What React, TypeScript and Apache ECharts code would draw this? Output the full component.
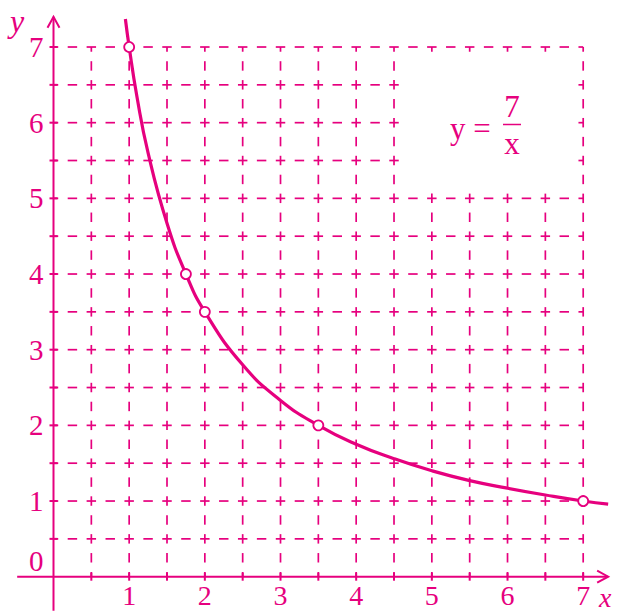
import React, { useEffect, useRef } from "react";
import * as echarts from "echarts";

const COLOR = "#e6007e";
const FONT = "'Liberation Serif', 'Times New Roman', serif";

// Axis tick labels
const xTickValues = [1, 2, 3, 4, 5, 6, 7];
const xTickLabels = ["1", "2", "3", "4", "5", "6", "7"];
const yTickValues = [0, 1, 2, 3, 4, 5, 6, 7];
const yTickLabels = ["0", "1", "2", "3", "4", "5", "6", "7"];

// Positions of dashed grid lines (and small axis ticks)
const gridValues = [0.5, 1, 1.5, 2, 2.5, 3, 3.5, 4, 4.5, 5, 5.5, 6, 6.5, 7];

// Region kept clear for the equation label
const labelBoxX = [4.5, 7];
const labelBoxY = [5, 7];

// Marked points (open circles)
const markedX = [1, 1.75, 2, 3.5, 7];
const markedY = [7, 4, 3.5, 2, 1];

// Curve y = 7/x
const curveX = [0.95, 1, 1.1, 1.25, 1.5, 1.75, 2, 2.5, 3, 3.5, 4, 4.5, 5, 5.5, 6, 6.5, 7, 7.33];
const curveY = [7.37, 7, 6.36, 5.6, 4.67, 4, 3.5, 2.8, 2.33, 2, 1.75, 1.56, 1.4, 1.27, 1.17, 1.08, 1, 0.96];

const X_MIN = -0.5, X_MAX = 7.35, Y_MIN = -0.45, Y_MAX = 7.4;
const S = 75.67;

export default function App() {
  const ref = useRef<HTMLDivElement>(null);
  useEffect(() => {
    document.body.style.margin = "0";
    const chart = echarts.init(ref.current!, null, { renderer: "svg" });

    const renderBackground = (_params: any, api: any) => {
      const children: any[] = [];
      const c = (x: number, y: number) => api.coord([x, y]);
      const dashStyle = { stroke: COLOR, lineWidth: 1.7 };
      const H = 0.0625;
      const gMax = gridValues[gridValues.length - 1];
      const n = Math.round(gMax / 0.25);
      const seg = (p1: number[], p2: number[], style: any) =>
        children.push({ type: "line", shape: { x1: p1[0], y1: p1[1], x2: p2[0], y2: p2[1] }, style });
      // vertical dashed lines
      for (const gx of gridValues) {
        for (let i = 0; i <= n; i++) {
          const t = i * 0.25;
          if (gx > labelBoxX[0] && gx < labelBoxX[1] && t > labelBoxY[0] && t < labelBoxY[1]) continue;
          const a = Math.max(0, t - H), b = Math.min(gMax, t + H);
          seg(c(gx, a), c(gx, b), dashStyle);
        }
      }
      // horizontal dashed lines
      for (const gy of gridValues) {
        for (let i = 0; i <= n; i++) {
          const t = i * 0.25;
          if (gy > labelBoxY[0] && gy < labelBoxY[1] && t > labelBoxX[0] && t < labelBoxX[1]) continue;
          const a = Math.max(0, t - H), b = Math.min(gMax, t + H);
          seg(c(a, gy), c(b, gy), dashStyle);
        }
      }
      const axisStyle = { stroke: COLOR, lineWidth: 2 };
      // axes
      seg(c(X_MIN + 0.02, 0), c(7.33, 0), axisStyle);
      seg(c(0, Y_MIN), c(0, Y_MAX), axisStyle);
      const xt = c(7.33, 0);
      children.push({ type: "polyline", shape: { points: [[xt[0] - 11, xt[1] - 6], [xt[0], xt[1]], [xt[0] - 11, xt[1] + 6]] }, style: { stroke: COLOR, lineWidth: 2, fill: "none" } });
      const yt = c(0, Y_MAX);
      children.push({ type: "polyline", shape: { points: [[yt[0] - 6, yt[1] + 11], [yt[0], yt[1]], [yt[0] + 6, yt[1] + 11]] }, style: { stroke: COLOR, lineWidth: 2, fill: "none" } });
      // ticks
      for (const v of gridValues) {
        const px = c(v, 0);
        seg([px[0], px[1] - 4], [px[0], px[1] + 4], axisStyle);
        const py = c(0, v);
        seg([py[0] - 4, py[1]], [py[0] + 4, py[1]], axisStyle);
      }
      // tick labels
      xTickValues.forEach((v, i) => {
        const p = c(v, 0);
        children.push({ type: "text", x: p[0], y: p[1] + 19, style: { text: xTickLabels[i], fill: COLOR, font: "28px " + FONT, align: "center", verticalAlign: "middle" } });
      });
      yTickValues.forEach((v, i) => {
        const p = c(0, v);
        children.push({ type: "text", x: p[0] - 10, y: p[1] - (v === 0 ? 16 : 0), style: { text: yTickLabels[i], fill: COLOR, font: "29px " + FONT, align: "right", verticalAlign: "middle" } });
      });
      return { type: "group", children };
    };

    chart.setOption({
      animation: false,
      grid: { left: 53.5 - 0.5 * S, top: 576.7 - Y_MAX * S, width: (X_MAX - X_MIN) * S, height: (Y_MAX - Y_MIN) * S },
      xAxis: { type: "value", min: X_MIN, max: X_MAX, show: false },
      yAxis: { type: "value", min: Y_MIN, max: Y_MAX, show: false },
      graphic: {
        elements: [
          { type: "text", x: 17, y: 21, style: { text: "y", fill: COLOR, font: "italic 32px " + FONT, align: "center", verticalAlign: "middle" } },
          { type: "text", x: 599, y: 597, style: { text: "x", fill: COLOR, font: "italic 28px " + FONT, align: "left", verticalAlign: "middle" } },
          { type: "text", x: 450, y: 128, style: { text: "y =", fill: COLOR, font: "31px " + FONT, align: "left", verticalAlign: "middle" } },
          { type: "text", x: 512, y: 106, style: { text: "7", fill: COLOR, font: "31px " + FONT, align: "center", verticalAlign: "middle" } },
          { type: "line", shape: { x1: 503, y1: 124.5, x2: 521, y2: 124.5 }, style: { stroke: COLOR, lineWidth: 1.5 } },
          { type: "text", x: 512, y: 143, style: { text: "x", fill: COLOR, font: "31px " + FONT, align: "center", verticalAlign: "middle" } },
        ],
      },
      series: [
        { type: "custom", coordinateSystem: "cartesian2d", data: [[0, 0]], renderItem: renderBackground, silent: true, clip: false, z: 1 },
        {
          type: "line",
          data: curveX.map((x, i) => [x, curveY[i]]),
          smooth: true,
          showSymbol: false,
          lineStyle: { color: COLOR, width: 3.2 },
          silent: true,
          z: 2,
        },
        {
          type: "scatter",
          data: markedX.map((x, i) => [x, markedY[i]]),
          symbol: "circle",
          symbolSize: 10,
          itemStyle: { color: "#ffffff", borderColor: COLOR, borderWidth: 1.8, opacity: 1 },
          silent: true,
          z: 3,
        },
      ],
    });
    return () => chart.dispose();
  }, []);
  return <div ref={ref} style={{ width: 618, height: 611 }} />;
}
